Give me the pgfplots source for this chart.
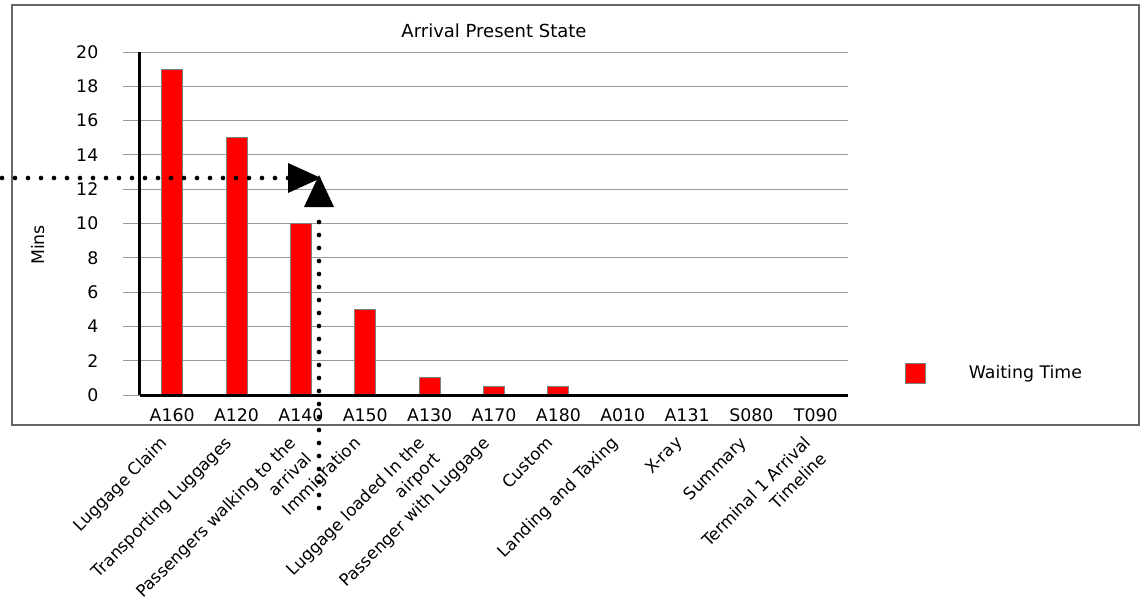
\documentclass[border=0pt]{standalone}
\usepackage{pgfplots}
\pgfplotsset{compat=1.18}
\usepackage{fontspec}
\setmainfont{DejaVu Sans}
\begin{document}
\begin{tikzpicture}[x=0.75pt,y=-0.75pt,
  lab/.style={rotate=45, anchor=north east, align=right, inner sep=0pt, font=\fontsize{12.5}{16.5}\selectfont}]
\path[use as bounding box] (0,0) rectangle (1140,604);
\draw[black!60, line width=1.1pt] (12,5) rectangle (1139,425);
\begin{axis}[
  at={(105pt,-296.25pt)}, anchor=south west,
  scale only axis, width=531pt, height=257.25pt,
  xmin=-0.5, xmax=10.5, ymin=0, ymax=20,
  ytick={0,2,...,20},
  xtick={0,...,10},
  xticklabels={A160,A120,A140,A150,A130,A170,A180,A010,A131,S080,T090},
  axis x line*=bottom, axis y line*=left,
  axis line style={black, line width=2.25pt, -},
  ymajorgrids, grid style={black!40, line width=0.75pt},
  ytick style={black!40, line width=0.75pt},
  tick align=outside, major tick length=12.75pt,
  xtick style={draw=none},
  /pgf/number format/assume math mode=true,
  ticklabel style={font=\fontsize{13}{15}\selectfont},
  yticklabel style={xshift=-15pt},
  xticklabel style={yshift=6pt},
  ybar, bar width=15.75pt,
  clip=false,
  legend style={draw=none, fill=none, at={(1.0805,0.064)}, anchor=west, inner sep=0pt, font=\fontsize{13}{15}\selectfont},
]
\addplot[fill=red, draw=black!50, line width=0.75pt,
  legend image code/.code={\draw[fill=red, draw=black!50, line width=0.75pt] (0pt,-7.5pt) rectangle (15pt,7.5pt);}]
  coordinates {(0,19) (1,15) (2,10) (3,5) (4,1) (5,0.5) (6,0.5) (7,0) (8,0) (9,0) (10,0)};
\addlegendentry{\hspace{30pt}Waiting Time}
\draw[black, line width=2.25pt] (axis cs:-0.5,0) -- (axis cs:10.5,0);
\node[lab] at ([xshift=-9.5pt,yshift=-30pt]axis cs:0,0) {Luggage Claim};
\node[lab] at ([xshift=-9.5pt,yshift=-30pt]axis cs:1,0) {Transporting Luggages};
\node[lab] at ([xshift=-9.5pt,yshift=-30pt]axis cs:2,0) {Passengers walking to the\\arrival};
\node[lab] at ([xshift=-9.5pt,yshift=-30pt]axis cs:3,0) {Immigration};
\node[lab] at ([xshift=-9.5pt,yshift=-30pt]axis cs:4,0) {Luggage loaded In the\\airport};
\node[lab] at ([xshift=-9.5pt,yshift=-30pt]axis cs:5,0) {Passenger with Luggage};
\node[lab] at ([xshift=-9.5pt,yshift=-30pt]axis cs:6,0) {Custom};
\node[lab] at ([xshift=-9.5pt,yshift=-30pt]axis cs:7,0) {Landing and Taxing};
\node[lab] at ([xshift=-9.5pt,yshift=-30pt]axis cs:8,0) {X-ray};
\node[lab] at ([xshift=-9.5pt,yshift=-30pt]axis cs:9,0) {Summary};
\node[lab] at ([xshift=-9.5pt,yshift=-30pt]axis cs:10,0) {Terminal 1 Arrival\\Timeline};
\end{axis}
\node[font=\fontsize{13.5}{15}\selectfont] at (494,31) {Arrival Present State};
\node[rotate=90, font=\fontsize{13}{15}\selectfont] at (38,245) {Mins};
\draw[line width=3.5pt, line cap=round, dash pattern=on 0pt off 9.75pt] (2,178) -- (290,178);
\fill (288,163) -- (321,178) -- (288,193) -- cycle;
\draw[line width=3.5pt, line cap=round, dash pattern=on 0pt off 9.75pt] (319,508) -- (319,212);
\fill (304,207) -- (319,175) -- (334,207) -- cycle;
\end{tikzpicture}
\end{document}
